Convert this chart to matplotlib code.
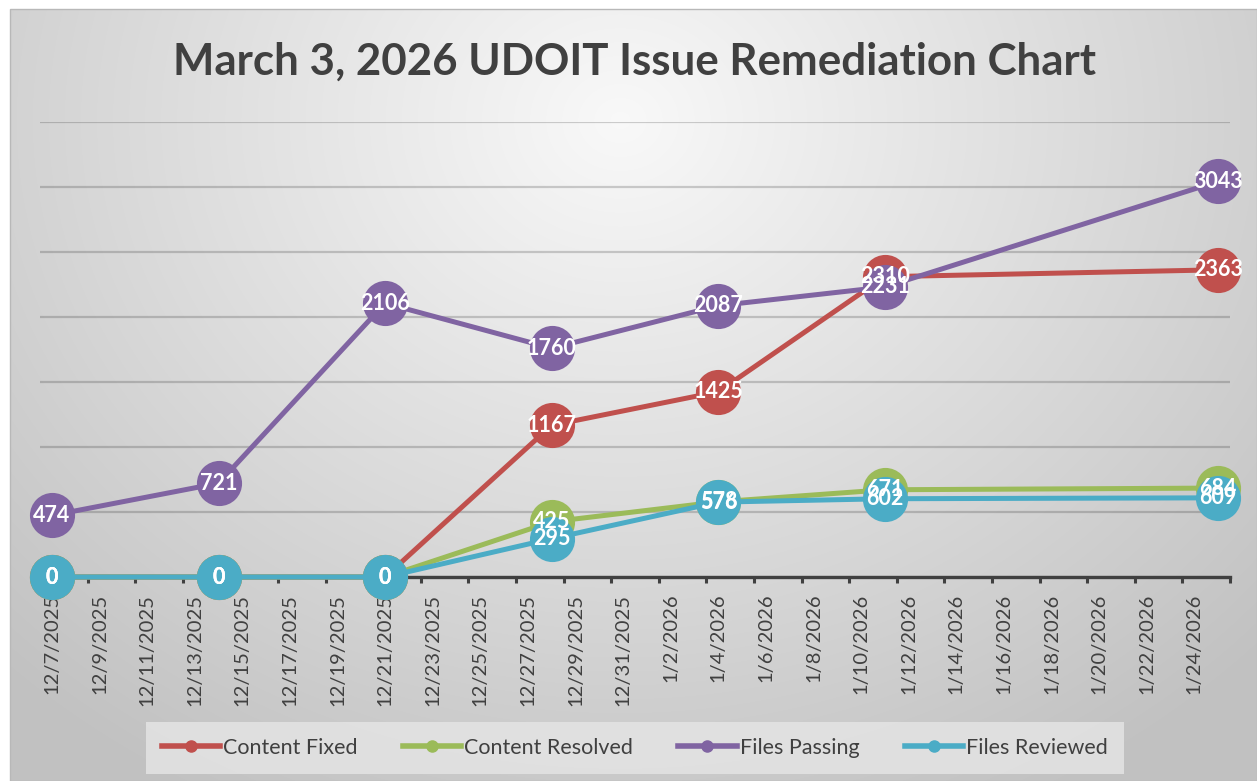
import matplotlib
matplotlib.use("Agg")
import matplotlib.pyplot as plt
import matplotlib.dates as mdates
from matplotlib.lines import Line2D
from matplotlib.patches import Rectangle
import numpy as np
import datetime as dt

plt.rcParams['font.family'] = ['Lato', 'DejaVu Sans']

# data
dates = ["2025-12-07", "2025-12-14", "2025-12-21", "2025-12-28",
         "2026-01-04", "2026-01-11", "2026-01-25"]
content_fixed = [0, 0, 0, 1167, 1425, 2310, 2363]
content_resolved = [0, 0, 0, 425, 578, 671, 684]
files_passing = [474, 721, 2106, 1760, 2087, 2231, 3043]
files_reviewed = [0, 0, 0, 295, 576, 602, 609]

series_names = ["Content Fixed", "Content Resolved", "Files Passing", "Files Reviewed"]
series_colors = ["#C0504D", "#9BBB59", "#8064A2", "#4BACC6"]
series_vals = [content_fixed, content_resolved, files_passing, files_reviewed]

title = "March 3, 2026 UDOIT Issue Remediation Chart"

W, H = 1257, 781
fig = plt.figure(figsize=(W / 100, H / 100), dpi=100)

# background: radial grey gradient like the office chart style
bg = fig.add_axes([0, 0, 1, 1], zorder=-5)
yy, xx = np.mgrid[0:H, 0:W]
r = np.sqrt(((xx - 620) / 900.0) ** 2 + ((yy - 120) / 780.0) ** 2)
shade = np.clip(0.975 - 0.22 * r, 0.76, 0.98)
img = np.dstack([shade, shade, shade])
img[:, :10] = 1.0
img[:9, :] = 1.0
bg.imshow(img, extent=(0, W, H, 0), aspect='auto', interpolation='bilinear')
bg.add_patch(Rectangle((10, 9), W - 10, H - 9, fill=False, edgecolor="#b8b8b8", lw=1))
bg.set_xlim(0, W)
bg.set_ylim(H, 0)
bg.axis('off')

ax = fig.add_axes([40 / W, 1 - 577 / H, (1230 - 40) / W, (577 - 122) / H])
ax.patch.set_alpha(0)

x = [mdates.date2num(dt.datetime.strptime(d, "%Y-%m-%d")) for d in dates]
start = x[0]
end = x[-1]
ax.set_xlim(start - 0.5, end + 0.5)
ax.set_ylim(0, 3500)

for i, (name, col, vals) in enumerate(zip(series_names, series_colors, series_vals)):
    ax.plot(x, vals, color=col, lw=3.6, marker='o', ms=32.5, markeredgewidth=0,
            zorder=3 + i, solid_capstyle='round', clip_on=False)
for vals in series_vals:
    for xi, v in zip(x, vals):
        ax.text(xi, v, str(v), color='white', fontsize=15.5, fontweight='bold',
                ha='center', va='center', zorder=20, clip_on=False)

# gridlines
ax.set_yticks(np.arange(0, 3501, 500))
ax.yaxis.grid(True, color='black', alpha=0.18, lw=1.6)
ax.set_axisbelow(True)
ax.tick_params(axis='y', left=False, labelleft=False)

# date labels every 2 days, tick marks at the day boundaries
label_pos = np.arange(start, end, 2)
labels = []
for p in label_pos:
    d = mdates.num2date(p)
    labels.append(f"{d.month}/{d.day}/{d.year}")
ax.set_xticks(label_pos, labels)
ax.set_xticks(np.arange(start - 0.5, end + 0.6, 2), minor=True)
ax.tick_params(axis='x', which='major', length=0, pad=12, labelsize=14.5,
               labelcolor='#404040', labelrotation=90)
ax.tick_params(axis='x', which='minor', length=4.5, width=2.2, color='#404040')

for s in ['top', 'right', 'left']:
    ax.spines[s].set_visible(False)
ax.spines['bottom'].set_color('#404040')
ax.spines['bottom'].set_linewidth(2.4)
ax.spines['bottom'].set_zorder(2.5)

fig.text(0.505, 1 - 62 / H, title, ha='center', va='center', fontsize=31.6,
         fontweight='bold', color='#404040')

handles = [Line2D([], [], color=c, lw=4, marker='o', ms=8) for c in series_colors]
leg = fig.legend(handles, series_names, loc='center', bbox_to_anchor=(0.505, 1 - 748 / H),
                 ncol=4, frameon=True, fancybox=False, facecolor='#e4e4e4',
                 edgecolor='none', framealpha=0.85, fontsize=15.5, handlelength=2.7,
                 handletextpad=0.15, columnspacing=2.1, borderpad=0.75, borderaxespad=0)
for t in leg.get_texts():
    t.set_color('#404040')

fig.savefig("out.png", dpi=100)
